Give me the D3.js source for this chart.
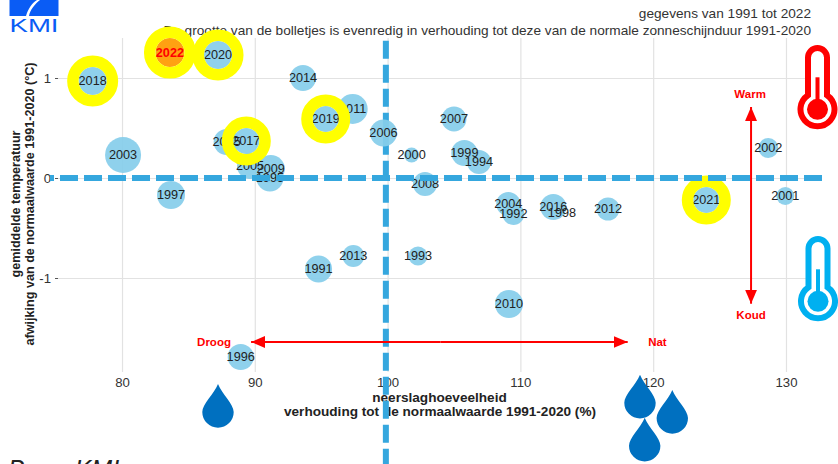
<!DOCTYPE html>
<html>
<head>
<meta charset="utf-8">
<script src="https://cdn.jsdelivr.net/npm/d3@7"></script>
<style>
  html, body { margin: 0; padding: 0; background: #fff; overflow: hidden; }
  text { font-family: "Liberation Sans", Arial, sans-serif; }
  .domain { display: none; }
</style>
</head>
<body>
<svg id="chart" width="838" height="464"></svg>
<script>
/* neerslag (% van normaal), temperatuur (afwijking in graden), zon (relatieve grootte) */
const years = [1991, 1992, 1993, 1994, 1995, 1996, 1997, 1998, 1999, 2000, 2001,
               2002, 2003, 2004, 2005, 2006, 2007, 2008, 2009, 2010, 2011, 2012,
               2013, 2014, 2015, 2016, 2017, 2018, 2019, 2020, 2021, 2022];
const rain = [94.8, 109.47, 102.29, 106.88, 91.14, 88.94, 83.69, 113.13, 105.78, 101.81, 129.95,
              128.67, 80.08, 109.09, 89.64, 99.69, 105.0, 102.82, 91.2, 109.14, 97.37, 116.6,
              97.42, 93.63, 87.88, 112.48, 89.36, 77.79, 95.34, 87.23, 124.0, 83.61];
const temp = [-0.91, -0.36, -0.78, 0.16, 0.0, -1.79, -0.17, -0.35, 0.25, 0.23, -0.18,
              0.30, 0.23, -0.26, 0.12, 0.45, 0.59, -0.06, 0.09, -1.26, 0.69, -0.31,
              -0.78, 1.0, 0.36, -0.29, 0.37, 0.97, 0.59, 1.23, -0.22, 1.255];
const sun = [108, 71, 53, 85, 108, 100, 116, 5, 100, 33, 48,
             59, 191, 85, 100, 108, 92, 85, 116, 116, 133, 78,
             71, 100, 100, 100, 100, 116, 100, 116, 100, 124];
const ringYears = [2017, 2018, 2019, 2020, 2021, 2022];
const currentYear = 2022;

const xTicks = [80, 90, 100, 110, 120, 130];
const yTicks = [-1, 0, 1];

const svg = d3.select("#chart");

const xScale = d3.scaleLinear().domain([75.18, 131.96]).range([58, 812]);
const yScale = d3.scaleLinear().domain([-1.94, 1.4]).range([372, 38]);
const rScale = d3.scaleSqrt().domain([0, 200]).range([0, 18.4]);

const points = years.map((year, i) => ({year, rain: rain[i], temp: temp[i], sun: sun[i]}));
const refRain = 99.87;

/* as */
const xAxis = d3.axisBottom(xScale)
    .tickValues(xTicks)
    .tickFormat(d3.format("d"))
    .tickSize(-(372 - 38))
    .tickPadding(6);
const yAxis = d3.axisLeft(yScale)
    .tickValues(yTicks)
    .tickFormat(d => d < 0 ? "-" + Math.abs(d) : d)
    .tickSize(-(812 - 58))
    .tickPadding(7);

const xAxisG = svg.append("g").attr("transform", "translate(0,372)").call(xAxis);
const yAxisG = svg.append("g").attr("transform", "translate(58,0)").call(yAxis);

xAxisG.selectAll("line").attr("stroke", "#e2e2e2").attr("stroke-width", 1.2);
yAxisG.selectAll("line").attr("stroke", "#e2e2e2").attr("stroke-width", 1);
xAxisG.selectAll("text").attr("fill", "#333").style("font-size", "13.2px");
yAxisG.selectAll("text").attr("fill", "#333").style("font-size", "13.2px");

yAxisG.selectAll(".tick").append("line")
    .attr("x1", -3).attr("x2", 0)
    .attr("stroke", "#555");

const xTitle = svg.append("g")
    .attr("font-weight", "bold")
    .attr("fill", "#222")
    .attr("text-anchor", "middle")
    .style("font-size", "13.6px");
xTitle.append("text").attr("x", 439.5).attr("y", 402).text("neerslaghoeveelheid");
xTitle.append("text").attr("x", 440).attr("y", 416).text("verhouding tot de normaalwaarde 1991-2020 (%)");

const yTitle = svg.append("g")
    .attr("font-weight", "bold")
    .attr("fill", "#222")
    .attr("text-anchor", "middle")
    .attr("transform", "rotate(-90)")
    .style("font-size", "12.6px");
yTitle.append("text").attr("x", -204).attr("y", 20).text("gemiddelde temperatuur");
yTitle.append("text").attr("x", -204).attr("y", 33.5).text("afwijking van de normaalwaarde 1991-2020 (°C)");

/* titels */
svg.append("text")
    .attr("x", 811).attr("y", 18)
    .attr("text-anchor", "end").attr("fill", "#333")
    .style("font-size", "13.65px")
    .text("gegevens van 1991 tot 2022");
svg.append("text")
    .attr("x", 811).attr("y", 35)
    .attr("text-anchor", "end").attr("fill", "#333")
    .style("font-size", "13.65px")
    .text("De grootte van de bolletjes is evenredig in verhouding tot deze van de normale zonneschijnduur 1991-2020");

svg.append("text")
    .attr("x", 8).attr("y", 478)
    .attr("font-style", "italic").attr("fill", "#222")
    .style("font-size", "25px")
    .text("Bron: KMI");

/* verticale referentielijn ligt onder de bolletjes */
svg.append("line")
    .attr("x1", xScale(refRain)).attr("x2", xScale(refRain))
    .attr("y1", 40.7).attr("y2", 464)
    .attr("stroke", "#35a7de").attr("stroke-width", 6)
    .attr("stroke-dasharray", "18 6");

/* pijlen */
const defs = svg.append("defs");
defs.append("marker")
    .attr("id", "head")
    .attr("viewBox", "0 0 14 12")
    .attr("refX", 14).attr("refY", 6)
    .attr("markerWidth", 14).attr("markerHeight", 12)
    .attr("markerUnits", "userSpaceOnUse")
    .attr("orient", "auto")
    .append("path").attr("d", "M0,0 L14,6 L0,12 Z").attr("fill", "#f00");

function arrow(x1, y1, x2, y2) {
    svg.append("line")
        .attr("x1", xScale(x1)).attr("y1", yScale(y1))
        .attr("x2", xScale(x2)).attr("y2", yScale(y2))
        .attr("stroke", "#f00").attr("stroke-width", 2)
        .attr("marker-end", "url(#head)");
}
arrow(104, -1.64, 89.72, -1.64);
arrow(104, -1.64, 118.08, -1.64);
arrow(127.37, 0.2, 127.37, 0.71);
arrow(127.37, 0.2, 127.37, -1.257);

function redLabel(x, y, label) {
    svg.append("text")
        .attr("x", xScale(x)).attr("y", yScale(y))
        .attr("dy", "0.35em")
        .attr("text-anchor", "middle")
        .attr("font-weight", "bold")
        .attr("fill", "#f00")
        .style("font-size", "11.5px")
        .text(label);
}
redLabel(127.3, 0.843, "Warm");
redLabel(127.37, -1.37, "Koud");
redLabel(86.93, -1.64, "Droog");
redLabel(120.32, -1.64, "Nat");

/* bolletjes */
svg.append("g").selectAll("circle")
    .data(points)
    .join("circle")
    .attr("cx", d => xScale(d.rain))
    .attr("cy", d => yScale(d.temp))
    .attr("r", d => rScale(d.sun))
    .attr("fill", d => d.year === currentYear ? "#ff9a00" : "#87ceeb")
    .attr("fill-opacity", 0.93);

svg.append("g").selectAll("text")
    .data(points)
    .join("text")
    .attr("x", d => xScale(d.rain))
    .attr("y", d => yScale(d.temp))
    .attr("dy", "0.35em")
    .attr("text-anchor", "middle")
    .attr("fill", d => d.year === currentYear ? "#f00" : "#222")
    .attr("font-weight", d => d.year === currentYear ? "bold" : "normal")
    .style("font-size", "12.7px")
    .text(d => d.year);

/* gele ringen voor de recente jaren */
svg.append("g").selectAll("circle")
    .data(points.filter(d => ringYears.includes(d.year)))
    .join("circle")
    .attr("cx", d => xScale(d.rain))
    .attr("cy", d => yScale(d.temp))
    .attr("r", d => rScale(d.sun) + 5.75)
    .attr("fill", "none")
    .attr("stroke", "#ff0")
    .attr("stroke-width", 11.5);

/* horizontale referentielijn ligt erboven */
svg.append("line")
    .attr("x1", 50).attr("x2", 824)
    .attr("y1", yScale(0)).attr("y2", yScale(0))
    .attr("stroke", "#35a7de").attr("stroke-width", 6)
    .attr("stroke-dasharray", "18 6")
    .attr("stroke-dashoffset", 14);

/* thermometers */
function thermometer(cx, cy, top, stemTop, color) {
    const w = 9.5, r = 17, join = cy - Math.sqrt(r * r - w * w), ty = top + 3 + w;
    const g = svg.append("g");
    g.append("path")
        .attr("d", `M${cx - w},${join} V${ty} A${w} ${w} 0 0 1 ${cx + w},${ty} V${join} A${r} ${r} 0 1 1 ${cx - w},${join} Z`)
        .attr("fill", "#fff")
        .attr("stroke", color)
        .attr("stroke-width", 6);
    g.append("rect")
        .attr("x", cx - 2).attr("y", stemTop)
        .attr("width", 4).attr("height", cy - stemTop)
        .attr("fill", color);
    g.append("circle")
        .attr("cx", cx).attr("cy", cy).attr("r", 10.5)
        .attr("fill", color);
}
thermometer(817.5, 109.3, 45, 77.3, "#f00");
thermometer(818, 301.3, 236, 269.3, "#00b0f0");

/* druppels */
const drops = [[218, 384], [640, 374.7], [672.3, 390], [644.7, 417.7]];
svg.append("g").selectAll("path")
    .data(drops)
    .join("path")
    .attr("transform", d => `translate(${d[0]},${d[1]})`)
    .attr("d", "M0,0 C4,10 15.7,20 15.7,28 A15.7 15.7 0 0 1 -15.7,28 C-15.7,20 -4,10 0,0 Z")
    .attr("fill", "#0070c0");

/* logo */
const logo = svg.append("g");
logo.append("rect")
    .attr("x", 9.5).attr("y", 0)
    .attr("width", 49).attr("height", 16)
    .attr("fill", "#0a5cf5");
logo.append("path")
    .attr("d", "M26,16 C28,9 32,3 37,0 L40,0 C35,4 30,10 29,16 Z")
    .attr("fill", "#fff");
logo.append("text")
    .attr("x", 9.5).attr("y", 31.7)
    .attr("textLength", 49)
    .attr("lengthAdjust", "spacingAndGlyphs")
    .attr("fill", "#0a5cf5")
    .style("font-size", "18.6px")
    .text("KMI");
</script>
</body>
</html>
